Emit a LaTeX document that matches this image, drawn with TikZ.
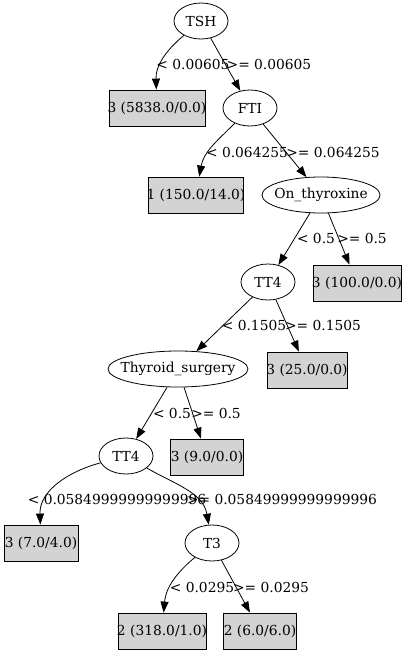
\documentclass[tikz,border=0pt]{standalone}
\usepackage{fontspec}
\setmainfont{DejaVu Serif}
\usetikzlibrary{shapes.geometric,arrows.meta}
\definecolor{leafgray}{HTML}{D3D3D3}
\newcommand{\zwtext}[1]{\makebox[0pt]{#1}}

\begin{document}
\begin{tikzpicture}[x=1pt,y=1pt,font=\fontsize{13.8}{16}\selectfont]
\useasboundingbox (0,0) rectangle (405,-653);

\begin{scope}[every node/.style={ellipse,draw,line width=0.8pt,inner sep=0pt,minimum height=36pt,minimum width=54pt}]
	\node (TSH) at (201,-21) {\zwtext{TSH}};
	\node (FTI) at (250,-108) {\zwtext{FTI}};
	\node[minimum width=118pt] (OnThy) at (321,-195) {\zwtext{On\_thyroxine}};
	\node (TTA) at (268,-282) {\zwtext{TT4}};
	\node[minimum width=140pt] (ThySurg) at (178,-369) {\zwtext{Thyroid\_surgery}};
	\node (TTB) at (126,-456) {\zwtext{TT4}};
	\node (T3) at (212,-543) {\zwtext{T3}};
\end{scope}

\begin{scope}[every node/.style={rectangle,draw,fill=leafgray,line width=0.8pt,inner sep=0pt,minimum height=36pt}]
	\node[minimum width=96pt] (L5838) at (157,-108) {\zwtext{3 (5838.0/0.0)}};
	\node[minimum width=95pt] (L150) at (196,-195) {\zwtext{1 (150.0/14.0)}};
	\node[minimum width=88pt] (L100) at (357,-283) {\zwtext{3 (100.0/0.0)}};
	\node[minimum width=80pt] (L25) at (307,-370) {\zwtext{3 (25.0/0.0)}};
	\node[minimum width=73pt] (L9) at (207,-457) {\zwtext{3 (9.0/0.0)}};
	\node[minimum width=74pt] (L7) at (41,-543) {\zwtext{3 (7.0/4.0)}};
	\node[minimum width=88pt] (L318) at (162,-631) {\zwtext{2 (318.0/1.0)}};
	\node[minimum width=73pt] (L6) at (260,-631) {\zwtext{2 (6.0/6.0)}};
\end{scope}

\begin{scope}[every edge/.style={draw=black,line width=0.8pt,-{Triangle[length=11pt,width=8pt]}}]
	\path (TSH) edge[out=-140,in=92] (L5838);
	\path (TSH) edge (FTI);
	\path (FTI) edge[out=-135,in=80] (L150);
	\path (FTI) edge (OnThy);
	\path (OnThy) edge (TTA);
	\path (OnThy) edge (L100);
	\path (TTA) edge (ThySurg);
	\path (TTA) edge (L25);
	\path (ThySurg) edge (TTB);
	\path (ThySurg) edge (L9);
	\path (TTB) edge[out=-165,in=92] (L7);
	\path (TTB) edge[out=-30,in=100] (T3);
	\path (T3) edge[out=-140,in=85] (L318);
	\path (T3) edge (L6);
\end{scope}

\begin{scope}[every node/.style={inner sep=0pt}]
	\node (labA) at (193,-64) {< 0.00605};
	\node (labB) at (269,-64) {>= 0.00605};
	\node (labC) at (247,-152) {< 0.064255};
	\node (labD) at (333,-152) {>= 0.064255};
	\node (labE) at (316,-238) {< 0.5};
	\node (labF) at (362,-238) {>= 0.5};
	\node (labG) at (254,-325) {< 0.1505};
	\node (labH) at (323,-325) {>= 0.1505};
	\node (labI) at (172,-413) {< 0.5};
	\node (labJ) at (216,-413) {>= 0.5};
	\node (labK) at (117,-499) {< 0.05849999999999996};
	\node (labL) at (282,-499) {>= 0.05849999999999996};
	\node (labM) at (202,-587) {< 0.0295};
	\node (labN) at (271,-587) {>= 0.0295};
\end{scope}
\end{tikzpicture}
\end{document}
